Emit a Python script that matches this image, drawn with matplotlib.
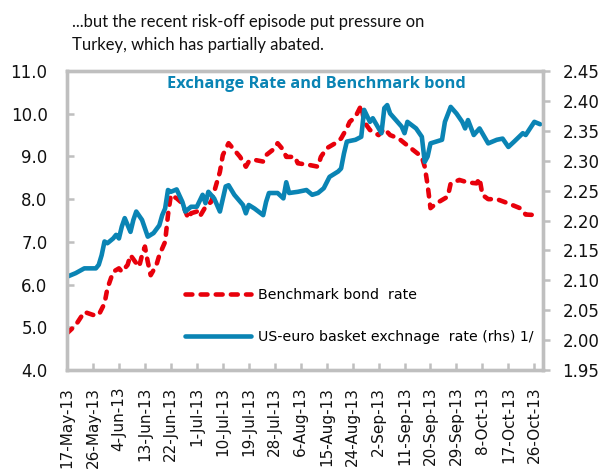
import matplotlib
matplotlib.use("Agg")
import matplotlib.pyplot as plt
import matplotlib.transforms as mtransforms
import pandas as pd

plt.rcParams['font.family'] = ['DejaVu Sans']

# Benchmark bond rate (left axis, percent)
bond_dates = [
    "2013-05-17", "2013-05-20", "2013-05-23", "2013-05-26", "2013-05-28", "2013-05-30",
    "2013-05-31", "2013-06-02", "2013-06-04", "2013-06-05", "2013-06-07", "2013-06-08",
    "2013-06-10", "2013-06-11", "2013-06-12", "2013-06-13", "2013-06-14", "2013-06-15",
    "2013-06-17", "2013-06-18", "2013-06-20", "2013-06-21", "2013-06-22", "2013-06-24",
    "2013-06-26", "2013-06-28", "2013-06-29", "2013-07-01", "2013-07-02", "2013-07-04",
    "2013-07-06", "2013-07-07", "2013-07-09", "2013-07-10", "2013-07-12", "2013-07-14",
    "2013-07-16", "2013-07-18", "2013-07-19", "2013-07-21", "2013-07-24", "2013-07-25",
    "2013-07-28", "2013-07-29", "2013-07-31", "2013-08-01", "2013-08-04", "2013-08-05",
    "2013-08-09", "2013-08-12", "2013-08-13", "2013-08-15", "2013-08-18", "2013-08-20",
    "2013-08-22", "2013-08-23", "2013-08-25", "2013-08-27", "2013-08-28", "2013-08-30",
    "2013-09-02", "2013-09-04", "2013-09-06", "2013-09-09", "2013-09-11", "2013-09-14",
    "2013-09-17", "2013-09-18", "2013-09-19", "2013-09-20", "2013-09-22", "2013-09-26",
    "2013-09-27", "2013-09-30", "2013-10-03", "2013-10-06", "2013-10-07", "2013-10-08",
    "2013-10-10", "2013-10-13", "2013-10-17", "2013-10-21", "2013-10-23", "2013-10-26",
]
bond_rate = [
    4.86, 5.05, 5.36, 5.29, 5.29, 5.56,
    5.91, 6.30, 6.38, 6.30, 6.46, 6.69,
    6.50, 6.42, 6.69, 6.89, 6.53, 6.22,
    6.46, 6.69, 7.00, 7.63, 8.10, 8.02,
    7.90, 7.55, 7.67, 7.71, 7.59, 7.82,
    7.94, 8.17, 8.64, 9.03, 9.31, 9.15,
    8.99, 8.76, 8.88, 8.92, 8.88, 9.03,
    9.19, 9.31, 9.15, 8.99, 8.99, 8.84,
    8.80, 8.76, 8.99, 9.19, 9.31, 9.42,
    9.66, 9.81, 9.93, 10.20, 9.81, 9.62,
    9.50, 9.65, 9.50, 9.42, 9.31, 9.15,
    8.99, 8.76, 8.33, 7.79, 7.90, 8.06,
    8.37, 8.45, 8.39, 8.37, 8.49, 8.10,
    8.00, 8.00, 7.90, 7.79, 7.64, 7.63,
]

# US-euro basket exchange rate (right axis)
fx_dates = [
    "2013-05-17", "2013-05-20", "2013-05-23", "2013-05-27", "2013-05-28", "2013-05-29",
    "2013-05-30", "2013-05-31", "2013-06-02", "2013-06-03", "2013-06-04", "2013-06-05",
    "2013-06-06", "2013-06-08", "2013-06-09", "2013-06-10", "2013-06-12", "2013-06-14",
    "2013-06-16", "2013-06-18", "2013-06-19", "2013-06-20", "2013-06-21", "2013-06-22",
    "2013-06-24", "2013-06-26", "2013-06-27", "2013-06-29", "2013-07-01", "2013-07-03",
    "2013-07-04", "2013-07-05", "2013-07-07", "2013-07-09", "2013-07-11", "2013-07-12",
    "2013-07-14", "2013-07-17", "2013-07-18", "2013-07-19", "2013-07-21", "2013-07-24",
    "2013-07-25", "2013-07-26", "2013-07-29", "2013-07-31", "2013-08-01", "2013-08-02",
    "2013-08-05", "2013-08-08", "2013-08-10", "2013-08-12", "2013-08-14", "2013-08-16",
    "2013-08-19", "2013-08-20", "2013-08-21", "2013-08-22", "2013-08-25", "2013-08-27",
    "2013-08-28", "2013-08-30", "2013-08-31", "2013-09-03", "2013-09-04", "2013-09-05",
    "2013-09-06", "2013-09-08", "2013-09-10", "2013-09-11", "2013-09-12", "2013-09-15",
    "2013-09-17", "2013-09-18", "2013-09-19", "2013-09-20", "2013-09-22", "2013-09-24",
    "2013-09-25", "2013-09-27", "2013-09-29", "2013-10-01", "2013-10-02", "2013-10-03",
    "2013-10-05", "2013-10-07", "2013-10-10", "2013-10-13", "2013-10-15", "2013-10-17",
    "2013-10-19", "2013-10-22", "2013-10-23", "2013-10-26", "2013-10-27", "2013-10-28",
]
fx_rate = [
    2.106, 2.112, 2.120, 2.120, 2.126, 2.142,
    2.165, 2.162, 2.170, 2.176, 2.170, 2.190,
    2.204, 2.181, 2.201, 2.215, 2.201, 2.173,
    2.179, 2.192, 2.209, 2.220, 2.251, 2.248,
    2.252, 2.231, 2.215, 2.223, 2.223, 2.243,
    2.229, 2.248, 2.237, 2.215, 2.257, 2.259,
    2.243, 2.226, 2.212, 2.226, 2.220, 2.209,
    2.231, 2.246, 2.246, 2.237, 2.264, 2.246,
    2.248, 2.251, 2.243, 2.246, 2.254, 2.273,
    2.282, 2.287, 2.312, 2.332, 2.335, 2.340,
    2.385, 2.365, 2.371, 2.346, 2.388, 2.393,
    2.379, 2.368, 2.357, 2.346, 2.365, 2.354,
    2.340, 2.298, 2.307, 2.329, 2.332, 2.335,
    2.365, 2.390, 2.379, 2.365, 2.354, 2.368,
    2.343, 2.354, 2.329, 2.335, 2.337, 2.323,
    2.332, 2.346, 2.343, 2.365, 2.363, 2.361,
]

left_ticks = [4.0, 5.0, 6.0, 7.0, 8.0, 9.0, 10.0, 11.0]
right_ticks = [1.95, 2.00, 2.05, 2.10, 2.15, 2.20, 2.25, 2.30, 2.35, 2.40, 2.45]
x_start, x_last_tick, x_end = "2013-05-17", "2013-10-26", "2013-10-29"

title_lines = ["...but the recent risk-off episode put pressure on",
               "Turkey, which has partially abated."]
panel_title = "Exchange Rate and Benchmark bond"
bond_label = "Benchmark bond  rate"
fx_label = "US-euro basket exchnage  rate (rhs) 1/"

RED = "#E8000B"
BLUE = "#0A84B4"
FRAME = "#BFBFBF"
INK = "#111111"

fig = plt.figure(figsize=(6.0, 4.75), dpi=100)
ax = fig.add_axes([0.1117, 0.221, 0.7933, 0.6295])
ax2 = ax.twinx()

bd = pd.to_datetime(bond_dates)
fd = pd.to_datetime(fx_dates)

l1, = ax.plot(bd, bond_rate, color=RED, lw=3.3, linestyle=(0, (1.5, 1.8)),
              dash_capstyle='round', label=bond_label)
l2, = ax2.plot(fd, fx_rate, color=BLUE, lw=3.3, solid_capstyle='round',
               solid_joinstyle='round', label=fx_label)

ax.set_xlim(pd.Timestamp(x_start), pd.Timestamp(x_end))
ax.set_ylim(left_ticks[0], left_ticks[-1])
ax2.set_ylim(right_ticks[0], right_ticks[-1])

ax.set_yticks(left_ticks)
ax.set_yticklabels([f"{v:.1f}" for v in left_ticks])
ax2.set_yticks(right_ticks)
ax2.set_yticklabels([f"{v:.2f}" for v in right_ticks])

xticks = pd.date_range(x_start, x_last_tick, freq="9D")
ax.set_xticks(xticks)
ax.set_xticklabels([f"{d.day}-{d.strftime('%b')}-{d.strftime('%y')}" for d in xticks],
                   rotation=90)
shift = mtransforms.ScaledTranslation(3.5 / 100, 0, fig.dpi_scale_trans)
for lab in ax.get_xticklabels():
    lab.set_transform(lab.get_transform() + shift)

for a in (ax, ax2):
    for s in a.spines.values():
        s.set_color(FRAME)
        s.set_linewidth(2.4)

ax.tick_params(axis='y', direction='in', length=5, width=1.8, color=FRAME,
               labelsize=12, pad=14, labelcolor=INK)
ax.tick_params(axis='x', direction='in', length=5, width=1.8, color=FRAME,
               labelsize=11, pad=12, labelcolor=INK)
ax2.tick_params(axis='y', direction='out', length=5, width=1.8, color=FRAME,
                labelsize=12, pad=9, labelcolor=INK)

fig.text(316 / 600, 1 - 88 / 475, panel_title, ha='center', va='baseline',
         fontsize=11.8, fontweight='bold', color=BLUE, family='Open Sans')

fig.text(72 / 600, 1 - 27 / 475, title_lines[0], ha='left', va='baseline',
         fontsize=12, color=INK, family='Lato')
fig.text(72 / 600, 1 - 50 / 475, title_lines[1], ha='left', va='baseline',
         fontsize=12, color=INK, family='Lato')

leg = ax.legend(handles=[l1, l2], loc='upper left', bbox_to_anchor=(0.237, 0.293),
                frameon=False, fontsize=10.2, handlelength=4.6, handletextpad=0.5,
                labelspacing=1.95, borderaxespad=0)

fig.savefig("out.png", dpi=100)
